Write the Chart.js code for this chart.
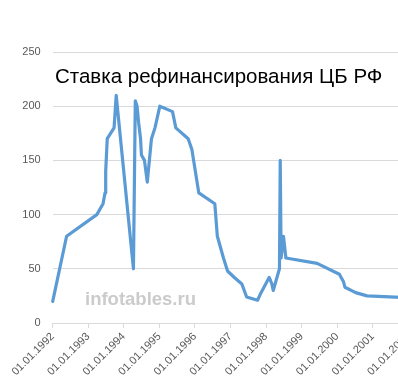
<!DOCTYPE html>
<html>
<head>
<meta charset="utf-8">
<script src="https://cdn.jsdelivr.net/npm/chart.js@4/dist/chart.umd.min.js"></script>
<style>
    html, body { margin: 0; padding: 0; background: #fff; overflow: hidden; }
    #wrap { position: relative; width: 430px; height: 388px; }
</style>
</head>
<body>
<div id="wrap"><canvas id="myChart"></canvas></div>
<script>
// dates of rate changes (dd.mm.yyyy), as plotted in the source
var rateDates = [
    '01.01.1992', '23.05.1992', '30.03.1993', '02.06.1993', '22.06.1993', '29.06.1993',
    '15.07.1993', '23.09.1993', '15.10.1993', '10.04.1994', '29.04.1994', '17.05.1994',
    '02.06.1994', '22.06.1994', '01.07.1994', '01.08.1994', '30.08.1994', '12.10.1994',
    '17.11.1994', '06.01.1995', '16.05.1995', '19.06.1995', '24.10.1995', '01.12.1995',
    '10.02.1996', '24.07.1996', '19.08.1996', '21.10.1996', '02.12.1996', '10.02.1997',
    '28.04.1997', '16.06.1997', '06.10.1997', '11.11.1997', '02.02.1998', '17.02.1998',
    '02.03.1998', '16.03.1998', '19.05.1998', '27.05.1998', '05.06.1998', '29.06.1998',
    '24.07.1998', '10.06.1999', '24.01.2000', '07.03.2000', '21.03.2000', '10.07.2000',
    '04.11.2000', '09.04.2002'
];
var rateValues = [
    20, 80, 100, 110, 120, 140,
    170, 180, 210, 50, 205, 200,
    185, 170, 155, 150, 130, 170,
    180, 200, 195, 180, 170, 160,
    120, 110, 80, 60, 48, 42,
    36, 24, 21, 28, 42, 39,
    36, 30, 50, 150, 60, 80,
    60, 55, 45, 38, 33, 28,
    25, 23
];
var tickYears = [1992, 1993, 1994, 1995, 1996, 1997, 1998, 1999, 2000, 2001, 2002];
var yTicks = [0, 50, 100, 150, 200, 250];
var chartTitle = 'Ставка рефинансирования ЦБ РФ';
var watermark = 'infotables.ru';

function toYear(str) {
    var p = str.split('.');
    var y = parseInt(p[2], 10);
    var start = Date.UTC(y, 0, 1);
    var t = Date.UTC(y, parseInt(p[1], 10) - 1, parseInt(p[0], 10));
    var len = Date.UTC(y + 1, 0, 1) - start;
    return y + (t - start) / len;
}

var points = [];
for (var i = 0; i < rateDates.length; i++) {
    points.push({ x: toYear(rateDates[i]), y: rateValues[i] });
}

var textPlugin = {
    id: 'textPlugin',
    beforeDatasetsDraw: function (chart) {
        var ctx = chart.ctx;
        ctx.save();
        ctx.fillStyle = '#cbcbcb';
        ctx.font = 'bold 18.5px "Liberation Sans", Arial, sans-serif';
        ctx.textAlign = 'left';
        ctx.textBaseline = 'alphabetic';
        ctx.fillText(watermark, 85, 305);

        ctx.fillStyle = '#000';
        ctx.font = '20.5px "Liberation Sans", Arial, sans-serif';
        ctx.fillText(chartTitle, 55, 83);
        ctx.restore();
    }
};

var grey = '#595959';
var lineGrey = '#d9d9d9';

var myChart = new Chart(document.getElementById('myChart').getContext('2d'), {
    type: 'line',
    data: {
        datasets: [
            {
                label: 'Ставка',
                data: points,
                borderColor: '#5b9bd5',
                backgroundColor: '#5b9bd5',
                borderWidth: 3.2,
                pointRadius: 0,
                tension: 0,
                fill: false,
                borderJoinStyle: 'round',
                borderCapStyle: 'round'
            }
        ]
    },
    options: {
        responsive: true,
        maintainAspectRatio: false,
        animation: false,
        clip: false,
        layout: { padding: { top: 52, right: 4, left: 0, bottom: 0 } },
        plugins: {
            legend: { display: false },
            title: { display: false },
            tooltip: { enabled: false }
        },
        scales: {
            x: {
                type: 'linear',
                min: 1992,
                max: 2002.5,
                afterBuildTicks: function (scale) {
                    scale.ticks = tickYears.map(function (v) { return { value: v }; });
                },
                afterFit: function (scale) {
                    scale.height = 65;
                },
                grid: {
                    drawOnChartArea: false,
                    drawTicks: true,
                    tickLength: 5,
                    color: lineGrey
                },
                border: { display: true, color: lineGrey },
                ticks: {
                    minRotation: 45,
                    maxRotation: 45,
                    padding: 2,
                    color: grey,
                    font: { family: '"Liberation Sans", Arial, sans-serif', size: 11 },
                    callback: function (v) { return '01.01.' + v; }
                }
            },
            y: {
                min: 0,
                max: 250,
                afterBuildTicks: function (scale) {
                    scale.ticks = yTicks.map(function (v) { return { value: v }; });
                },
                afterFit: function (scale) {
                    scale.width = 52.7;
                },
                grid: {
                    drawTicks: false,
                    color: lineGrey
                },
                border: { display: false },
                ticks: {
                    padding: 12,
                    color: grey,
                    font: { family: '"Liberation Sans", Arial, sans-serif', size: 11 }
                }
            }
        }
    },
    plugins: [textPlugin]
});
</script>
</body>
</html>
